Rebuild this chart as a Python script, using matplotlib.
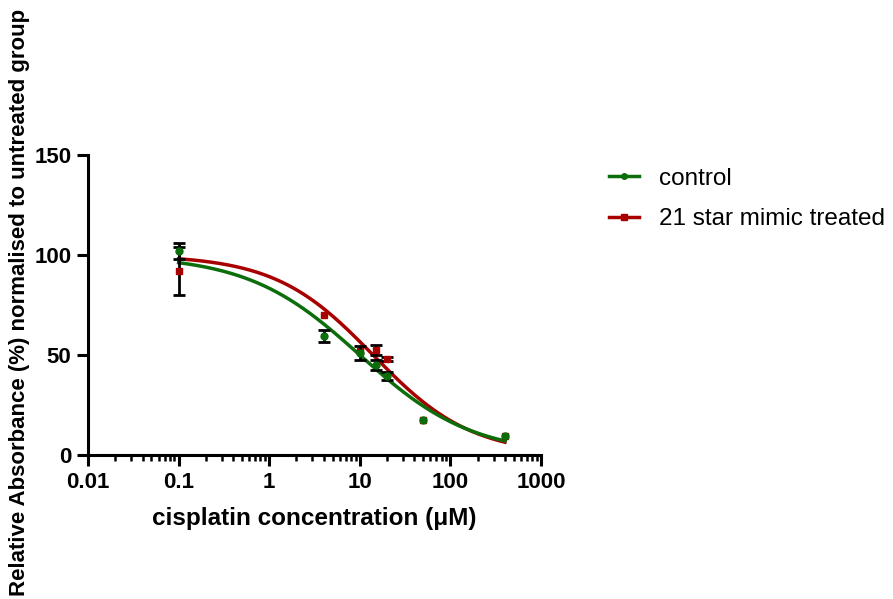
import numpy as np
import matplotlib
matplotlib.use("Agg")
import matplotlib.pyplot as plt
from matplotlib.ticker import LogLocator, FixedLocator, FuncFormatter
from matplotlib.lines import Line2D

plt.rcParams['font.family'] = ['Liberation Sans', 'DejaVu Sans']

# Data
conc = [0.1, 4, 10, 15, 20, 50, 400]
control_mean = [102, 59.5, 51, 45, 39.5, 17.5, 9.7]
control_err = [4, 3, 3.5, 2.5, 2, 0, 0]
treated_mean = [92, 70, 52, 52.5, 48, 17.5, 9.7]
treated_err = [12, 0, 0, 2.5, 1.2, 0, 0]

# Fitted dose-response parameters (top, bottom, IC50, hill)
control_fit = [100, 0, 10, 0.70]
treated_fit = [100, 0, 14, 0.80]

xticks = [0.01, 0.1, 1, 10, 100, 1000]
xticklabels = ['0.01', '0.1', '1', '10', '100', '1000']
yticks = [0, 50, 100, 150]

green = '#0b6e0b'
red = '#a80000'

fig = plt.figure(figsize=(8.93, 5.99), dpi=100)
ax = fig.add_axes([88/893, 1-455/599, 453/893, 300/599])

def logistic(x, p):
    top, bottom, ic50, h = p
    return bottom + (top - bottom) / (1 + (x / ic50) ** h)

xx = np.logspace(np.log10(conc[0]), np.log10(conc[-1]), 300)
ax.plot(xx, logistic(xx, treated_fit), color=red, lw=2.5, zorder=2)
ax.plot(xx, logistic(xx, control_fit), color=green, lw=2.5, zorder=2)

def draw_errs(x, y, e, z):
    xs = [a for a, d in zip(x, e) if d > 0]
    ys = [b for b, d in zip(y, e) if d > 0]
    es = [d for d in e if d > 0]
    ax.errorbar(xs, ys, yerr=es, fmt='none', ecolor='black', elinewidth=2,
                capsize=4, capthick=2, zorder=z)

draw_errs(conc, treated_mean, treated_err, 3)
ax.plot(conc, treated_mean, 's', color=red, ms=5, zorder=3.5, ls='none')
draw_errs(conc, control_mean, control_err, 4)
ax.plot(conc, control_mean, 'o', color=green, ms=5, zorder=4.5, ls='none')

ax.set_xscale('log')
ax.set_xlim(0.01, 1000)
ax.set_ylim(0, 150)
ax.xaxis.set_major_locator(FixedLocator(xticks))
ax.set_xticklabels(xticklabels)
ax.xaxis.set_minor_locator(LogLocator(base=10, subs=np.arange(2, 10), numticks=20))
ax.xaxis.set_minor_formatter(FuncFormatter(lambda v, p: ''))
ax.set_yticks(yticks)

for s in ['top', 'right']:
    ax.spines[s].set_visible(False)
for s in ['left', 'bottom']:
    ax.spines[s].set_linewidth(2.2)
ax.tick_params(axis='both', which='major', direction='out', length=8, width=2.2,
               labelsize=16, pad=4)
ax.tick_params(axis='x', which='minor', direction='out', length=4, width=1.8)
for lbl in ax.get_xticklabels() + ax.get_yticklabels():
    lbl.set_fontweight('bold')

ax.set_xlabel('cisplatin concentration (\u03bcM)', fontsize=17.5, fontweight='bold', labelpad=10)
fig.text(20/893, 1-302/599, 'Relative Absorbance (%) normalised to untreated group',
         rotation=90, ha='center', va='center', fontsize=16, fontweight='bold')

handles = [Line2D([], [], color=green, lw=2.5, marker='o', ms=4),
           Line2D([], [], color=red, lw=2.5, marker='s', ms=4)]
fig.legend(handles, ['control', '21 star mimic treated'], loc='upper left',
           bbox_to_anchor=(587/893, 1-146/599), frameon=False, fontsize=17.5,
           handlelength=1.25, handletextpad=0.8, labelspacing=0.75)

fig.savefig('out.png', dpi=100)
